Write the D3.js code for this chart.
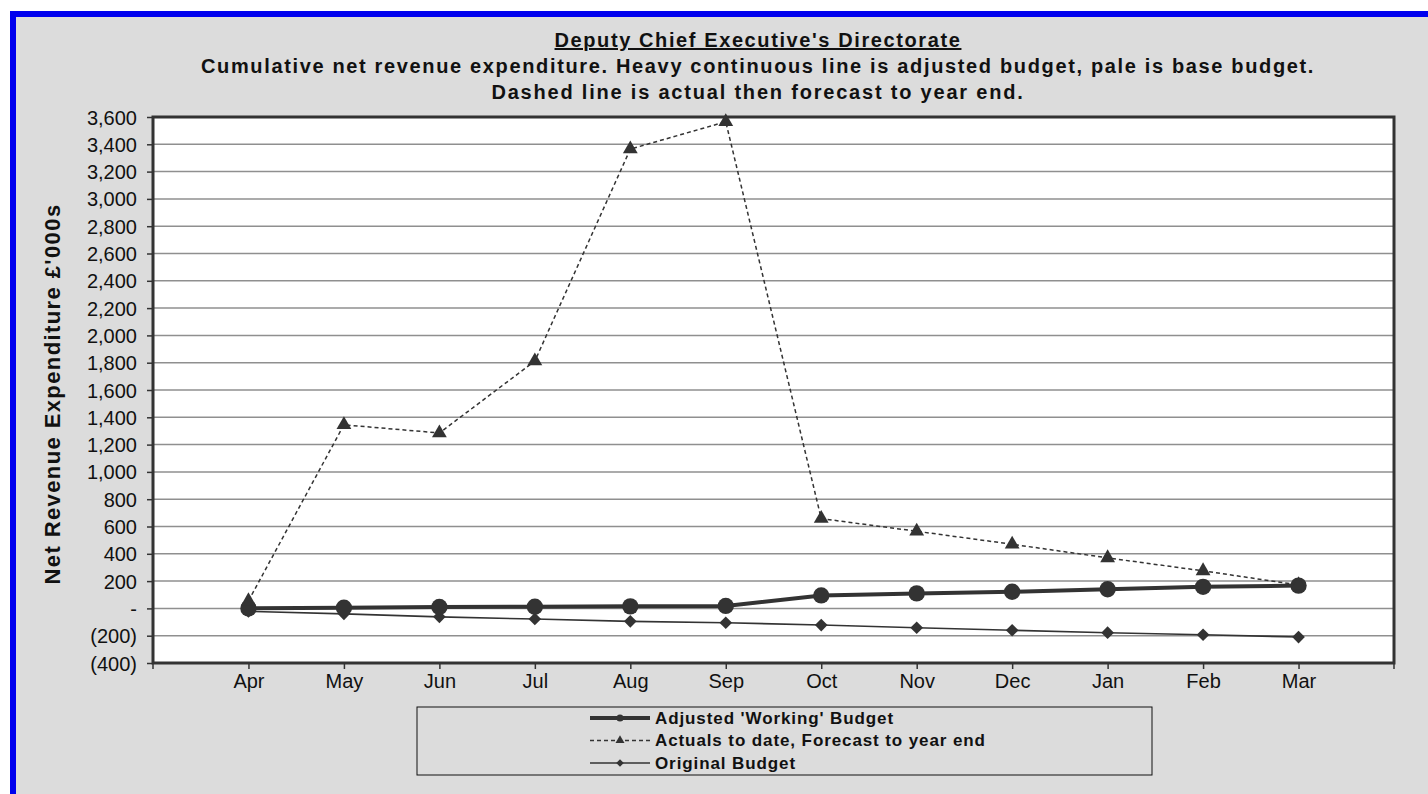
<!DOCTYPE html>
<html>
<head>
<meta charset="utf-8">
<script src="https://cdn.jsdelivr.net/npm/d3@7"></script>
<style>
  body { margin:0; background:#fff; }
  svg text { font-family: "Liberation Sans", Arial, sans-serif; fill:#111; }
</style>
</head>
<body>
<svg id="chart" width="1428" height="794"></svg>
<script>
// data, £'000s
var months = ['Apr','May','Jun','Jul','Aug','Sep','Oct','Nov','Dec','Jan','Feb','Mar'];
var adjusted = [0, 5, 10, 12, 15, 18, 95, 110, 122, 140, 158, 167];
var actuals = [55, 1345, 1285, 1812, 3365, 3565, 658, 565, 470, 370, 275, 172];
var original = [-22, -40, -62, -78, -95, -105, -122, -142, -160, -178, -193, -210];
var yTicks = [-400,-200,0,200,400,600,800,1000,1200,1400,1600,1800,2000,2200,2400,2600,2800,3000,3200,3400,3600];

var svg = d3.select('#chart');
var dark = '#333';

// page background + blue frame
svg.append('rect').attr('x',10).attr('y',11).attr('width',1418).attr('height',783).attr('fill','#dcdcdc');
svg.append('rect').attr('x',10).attr('y',11).attr('width',1418).attr('height',6).attr('fill','#0000ee');
svg.append('rect').attr('x',10).attr('y',11).attr('width',6).attr('height',783).attr('fill','#0000ee');

var margin = {left:153, top:117, right:1394, bottom:663};

var x = d3.scalePoint().domain(months).range([margin.left, margin.right]).padding(1);
var y = d3.scaleLinear().domain([-400, 3600]).range([margin.bottom, margin.top]);

// titles
var cx = 758;
svg.append('text').attr('x',cx).attr('y',47).attr('text-anchor','middle')
  .style('font-size','20px').style('font-weight','bold').style('letter-spacing','1.6px')
  .style('text-decoration','underline')
  .text("Deputy Chief Executive's Directorate");
svg.append('text').attr('x',cx).attr('y',73).attr('text-anchor','middle')
  .style('font-size','20px').style('font-weight','bold').style('letter-spacing','1.65px')
  .text('Cumulative net revenue expenditure. Heavy continuous line is adjusted budget, pale is base budget.');
svg.append('text').attr('x',cx).attr('y',99).attr('text-anchor','middle')
  .style('font-size','20px').style('font-weight','bold').style('letter-spacing','1.8px')
  .text('Dashed line is actual then forecast to year end.');

// plot background
svg.append('rect').attr('x',margin.left).attr('y',margin.top)
  .attr('width',margin.right-margin.left).attr('height',margin.bottom-margin.top).attr('fill','#fff');

// gridlines
svg.append('g').selectAll('line').data(yTicks.slice(1,-1)).enter().append('line')
  .attr('x1',margin.left).attr('x2',margin.right)
  .attr('y1',function(d){ return y(d); }).attr('y2',function(d){ return y(d); })
  .attr('stroke','#8f8f8f').attr('stroke-width',1.5);

// y axis
function fmt(d) {
  if (d === 0) return '-';
  if (d < 0) return '(' + d3.format(',')(-d) + ')';
  return d3.format(',')(d);
}
var yAxis = d3.axisLeft(y).tickValues(yTicks).tickFormat(fmt).tickSize(6).tickSizeOuter(0);
var gy = svg.append('g').attr('transform','translate(' + margin.left + ',0)').call(yAxis);
gy.select('.domain').remove();
gy.selectAll('line').attr('stroke',dark).attr('stroke-width',1.5);
gy.selectAll('text').style('font-size','20px').attr('x',-16).attr('dy','0.35em').attr('fill','#111');

// x axis
var xAxis = d3.axisBottom(x).tickSize(6).tickSizeOuter(0);
var gx = svg.append('g').attr('transform','translate(0,' + margin.bottom + ')').call(xAxis);
gx.select('.domain').remove();
gx.selectAll('line').attr('stroke',dark).attr('stroke-width',1.5);
gx.selectAll('text').style('font-size','20px').attr('y',11).attr('fill','#111');
[margin.left, margin.right].forEach(function(px){
  gx.append('line').attr('x1',px).attr('x2',px).attr('y1',0).attr('y2',6).attr('stroke',dark).attr('stroke-width',1.5);
});

// plot frame
svg.append('rect').attr('x',margin.left).attr('y',margin.top)
  .attr('width',margin.right-margin.left).attr('height',margin.bottom-margin.top)
  .attr('fill','none').attr('stroke',dark).attr('stroke-width',3);

// y title
svg.append('text').attr('transform','translate(60,394) rotate(-90)')
  .attr('text-anchor','middle').style('font-size','22px').style('font-weight','bold')
  .style('letter-spacing','1.4px')
  .text("Net Revenue Expenditure £'000s");

var line = d3.line().x(function(d,i){ return x(months[i]); }).y(function(d){ return y(d); });

var symCircle = d3.symbol().type(d3.symbolCircle).size(210);
var symTri = d3.symbol().type(d3.symbolTriangle).size(95);
var symDia = d3.symbol().type(d3.symbolSquare).size(80);

// original budget
svg.append('path').datum(original).attr('d',line).attr('fill','none').attr('stroke',dark).attr('stroke-width',1.6);
svg.append('g').selectAll('path').data(original).enter().append('path')
  .attr('d',symDia).attr('fill',dark)
  .attr('transform',function(d,i){ return 'translate(' + x(months[i]) + ',' + y(d) + ') rotate(45)'; });

// adjusted budget
svg.append('path').datum(adjusted).attr('d',line).attr('fill','none').attr('stroke',dark).attr('stroke-width',4);
svg.append('g').selectAll('path').data(adjusted).enter().append('path')
  .attr('d',symCircle).attr('fill',dark)
  .attr('transform',function(d,i){ return 'translate(' + x(months[i]) + ',' + y(d) + ')'; });

// actuals / forecast
svg.append('path').datum(actuals).attr('d',line).attr('fill','none').attr('stroke',dark)
  .attr('stroke-width',1.5).attr('stroke-dasharray','4,3');
svg.append('g').selectAll('path').data(actuals).enter().append('path')
  .attr('d',symTri).attr('fill',dark)
  .attr('transform',function(d,i){ return 'translate(' + x(months[i]) + ',' + y(d) + ')'; });

// legend
var lg = svg.append('g');
lg.append('rect').attr('x',417).attr('y',707).attr('width',735).attr('height',68)
  .attr('fill','none').attr('stroke','#111').attr('stroke-width',1);
var legendItems = [
  {label:"Adjusted 'Working' Budget", w:4, dash:null, sym:d3.symbol().type(d3.symbolCircle).size(40), rot:0},
  {label:'Actuals to date, Forecast to year end', w:1.3, dash:'4,3', sym:d3.symbol().type(d3.symbolTriangle).size(35), rot:0},
  {label:'Original Budget', w:1.5, dash:null, sym:d3.symbol().type(d3.symbolSquare).size(28), rot:45}
];
legendItems.forEach(function(it, i){
  var ly = 718 + i*22.5;
  lg.append('line').attr('x1',590).attr('x2',650).attr('y1',ly).attr('y2',ly)
    .attr('stroke',dark).attr('stroke-width',it.w).attr('stroke-dasharray',it.dash);
  lg.append('path').attr('d',it.sym).attr('fill',dark)
    .attr('transform','translate(620,' + ly + ') rotate(' + it.rot + ')');
  lg.append('text').attr('x',655).attr('y',ly).attr('dy','0.35em')
    .style('font-size','17px').style('font-weight','bold').style('letter-spacing','0.9px').text(it.label);
});
</script>
</body>
</html>
